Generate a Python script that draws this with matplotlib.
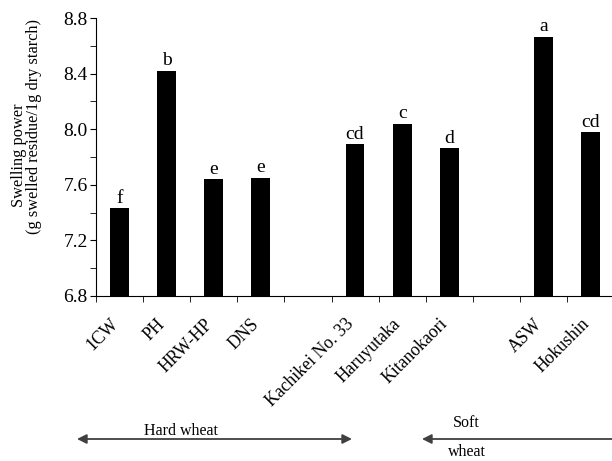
import numpy as np
import matplotlib
matplotlib.use("Agg")
import matplotlib.pyplot as plt
from matplotlib.patches import FancyArrowPatch
from matplotlib.ticker import MultipleLocator, FixedLocator
import matplotlib.transforms as mtransforms

plt.rcParams['font.family'] = ['Liberation Serif', 'DejaVu Serif']

# imported hard, Japanese hard, soft wheat
group1 = ["1CW", "PH", "HRW-HP", "DNS"]
group2 = ["Kachikei No. 33", "Haruyutaka", "Kitanokaori"]
group3 = ["ASW", "Hokushin"]
values1 = [7.43, 8.42, 7.64, 7.65]
values2 = [7.89, 8.04, 7.865]
values3 = [8.665, 7.98]
letters1 = ["f", "b", "e", "e"]
letters2 = ["cd", "c", "d"]
letters3 = ["a", "cd"]

names = group1 + group2 + group3
values = values1 + values2 + values3
letters = letters1 + letters2 + letters3
# one empty slot between groups
pos = list(range(len(group1))) \
    + [len(group1) + 1 + i for i in range(len(group2))] \
    + [len(group1) + len(group2) + 2 + i for i in range(len(group3))]

fig = plt.figure(figsize=(6.12, 4.61), dpi=100)
ax = fig.add_axes([96/612, 1-296/461, 1-96/612, (296-18)/461])

ax.bar(pos, np.array(values) - 6.8, bottom=6.8, width=0.4, color="black")
for p, v, l in zip(pos, values, letters):
    ax.annotate(l, (p, v), xytext=(0, 1), textcoords="offset points",
                ha="center", va="bottom", fontsize=14)

ax.set_ylim(6.8, 8.8)
ax.set_xlim(-0.5, -0.5 + 516/47.1)
ax.yaxis.set_major_locator(MultipleLocator(0.4))
ax.yaxis.set_minor_locator(MultipleLocator(0.2))
ax.set_yticklabels(["%.1f" % t for t in ax.get_yticks()])
ax.tick_params(axis="y", which="both", direction="out", length=4, labelsize=14, pad=2)

ax.xaxis.set_minor_locator(FixedLocator(np.arange(-0.5, 10, 1.0)))
ax.set_xticks(pos)
ax.set_xticklabels(names, rotation=45, ha="right", rotation_mode="anchor", fontsize=12.8)
ax.tick_params(axis="x", which="major", length=0, pad=14)
ax.tick_params(axis="x", which="minor", direction="out", length=4)
shift = mtransforms.ScaledTranslation(-10/100, 0, fig.dpi_scale_trans)
for lab in ax.get_xticklabels():
    lab.set_transform(lab.get_transform() + shift)

for s in ["top", "right"]:
    ax.spines[s].set_visible(False)
ax.spines["left"].set_bounds(6.8, 8.8)

fig.text(19/612, 1-155/461, "Swelling power", rotation=90, ha="center", va="center", fontsize=11.8)
fig.text(34/612, 1-126/461, "(g swelled residue/1g dry starch)", rotation=90, ha="center", va="center", fontsize=11.8)

ya = 1 - 439/461
fig.add_artist(FancyArrowPatch((77/612, ya), (352/612, ya), transform=fig.transFigure,
                               arrowstyle="<|-|>", mutation_scale=14, color="#404040", lw=1.3,
                               shrinkA=0, shrinkB=0))
fig.add_artist(FancyArrowPatch((422/612, ya), (1.05, ya), transform=fig.transFigure,
                               arrowstyle="<|-", mutation_scale=14, color="#404040", lw=1.3,
                               shrinkA=0, shrinkB=0))
fig.text(181/612, 1-431/461, "Hard wheat", ha="center", va="center", fontsize=11.5)
fig.text(466/612, 1-423/461, "Soft", ha="center", va="center", fontsize=11.5)
fig.text(467/612, 1-452/461, "wheat", ha="center", va="center", fontsize=11.5)

fig.savefig("out.png", dpi=100)
